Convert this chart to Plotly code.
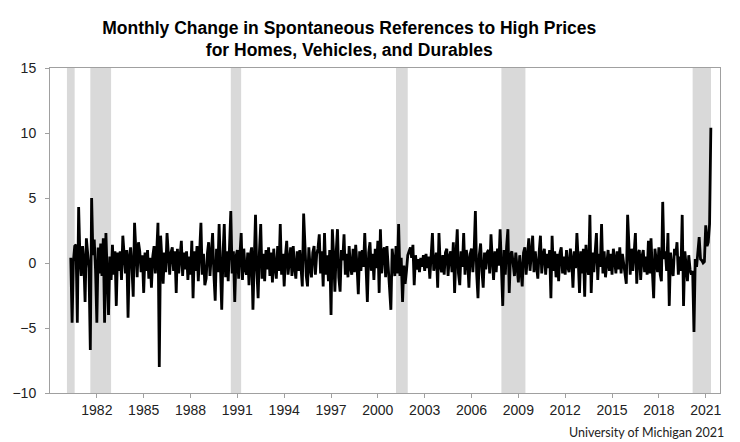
import pandas as pd
import plotly.graph_objects as go

# ---------------- data ----------------
start_month = "1980-05-01"

# monthly change, May 1980 .. May 2021
change = [
    0.4, -4.6, 0.1, 1.3, 1.4, -4.6, 4.3, 0.5,                          # 1980 (May-Dec)
    -1.0, 1.3, 0.2, -3.0, 1.9, 0.8, -0.4, -6.7, 5.0, 0.6, 1.8, -0.5,    # 1981
    -4.6, 1.2, -0.8, 1.5, -1.0, 1.9, -4.6, 2.3, -0.6, -4.0, 0.5, -1.3,  # 1982
    1.4, -0.9, 0.9, -3.3, 0.8, -0.6, 0.9, -1.3, 2.1, 0.6, -0.8, 1.0,    # 1983
    -4.2, 0.5, 1.2, -0.4, -2.6, 3.1, 0.4, -1.1, 1.6, 0.9, -0.7, 0.6,    # 1984
    -2.3, 0.8, -0.6, 1.0, -1.2, 0.4, -1.9, 0.5, 1.3, -0.8, 0.8, 3.1,    # 1985
    -8.0, 2.1, 0.4, -1.6, 0.8, -0.7, 2.3, 0.6, -0.9, 0.8, 1.2, -0.6,    # 1986
    0.9, -2.3, 1.1, -0.8, 0.4, 1.7, -1.0, 0.8, -0.5, 0.9, -1.3, 0.5,    # 1987
    -0.9, 1.7, -2.7, 0.9, -0.6, 1.3, -1.4, 0.4, 3.1, -0.9, 0.7, -1.7,   # 1988
    -1.2, 0.8, 1.6, -1.0, 0.6, 2.3, -0.9, -2.9, 1.1, -0.7, 3.0, -0.6,   # 1989
    -3.6, 0.8, 3.0, -1.1, 0.9, -1.4, 1.2, 4.0, -0.8, 0.9, -3.0, 0.5,    # 1990
    1.0, -1.2, 0.6, 2.3, -1.3, 1.1, -0.4, -0.9, 0.8, -1.7, 0.6, 1.2,    # 1991
    -3.6, 0.7, 3.7, -0.6, -2.7, 0.9, 3.0, -1.2, 0.7, -1.4, 1.0, -0.5,   # 1992
    1.2, -1.0, 0.8, -1.5, 1.1, -0.4, -1.2, 1.3, -0.6, 3.0, -0.9, 0.7,   # 1993
    -1.8, 0.6, 1.7, -0.9, 0.5, 1.2, -1.0, 1.3, -0.4, -1.2, 0.9, -0.6,   # 1994
    1.0, -0.8, -1.8, 3.8, 0.6, -1.0, -1.8, 1.2, -0.4, -1.1, 0.8, 1.3,   # 1995
    -0.9, 0.7, 1.1, 2.2, -0.8, 0.9, -1.8, 2.3, -0.9, 0.6, -1.4, 1.0,    # 1996
    -4.0, 2.6, 0.7, -2.2, 0.8, 2.6, -1.1, -2.2, 1.0, 0.2, 2.2, -0.9,    # 1997
    0.7, -1.1, 1.3, -0.3, -0.9, 1.1, -0.7, 1.4, -0.2, -2.4, 0.9, -0.6,  # 1998
    1.0, -0.3, 2.3, -0.9, -3.0, 0.8, 1.6, -0.6, 0.7, -1.3, 1.1, -0.4,   # 1999
    1.7, -2.3, 2.6, -0.8, 0.9, 1.2, -1.1, 1.3, -0.3, -1.4, -3.6, 1.1,   # 2000
    -0.3, -1.0, 1.3, -0.8, 3.0, -1.0, 0.4, -3.0, -0.2, -1.6, -0.6, 0.6, # 2001
    0.9, 1.2, 0.4, 1.4, -1.7, 0.6, -0.5, 0.3, -0.7, 0.4, -0.3, 0.6,     # 2002
    -0.6, 0.7, -0.4, 0.5, -1.2, 1.1, 2.3, -0.6, 0.3, 0.8, -1.9, 2.3,    # 2003
    -0.2, -0.7, 0.6, -0.9, 0.8, 1.1, -1.0, 0.5, 0.9, -0.7, 1.6, -2.3,   # 2004
    0.6, 2.6, -0.8, -1.7, 0.9, -0.3, 2.3, -0.9, 1.0, 0.3, -1.9, 0.7,    # 2005
    1.1, -0.7, 0.8, 4.0, -0.8, -2.7, 0.6, 1.5, -0.6, -1.9, 0.8, -0.5,   # 2006
    0.8, 1.0, -0.8, 2.2, 0.3, -1.3, 0.9, -0.7, 1.1, -0.2, 2.6, -0.8,    # 2007
    -3.3, 1.0, -0.9, 1.3, 2.6, -2.3, 0.6, 0.9, -0.4, -1.0, 0.8, -0.7,   # 2008
    -1.5, 0.6, -1.0, -1.8, 0.8, 1.2, -0.9, 0.6, 1.9, -0.6, 0.5, 2.1,    # 2009
    -0.7, 0.9, -0.2, -1.2, 0.8, 2.1, -0.8, 0.6, 1.1, -0.9, 0.7, -0.4,   # 2010
    1.0, -2.7, 2.1, -0.6, 0.9, -1.1, 0.7, -1.4, 0.8, 1.2, -0.8, 0.5,    # 2011
    -0.9, 1.0, -0.3, -0.7, 1.1, 0.3, -1.9, 0.9, -0.4, 2.3, 0.2, -2.3,   # 2012
    0.9, -0.8, 1.1, -2.6, 1.4, -0.3, -0.9, 3.7, -2.3, 0.8, -0.7, 1.2,   # 2013
    2.3, -1.3, 0.7, -0.3, 3.0, -0.8, 0.9, -1.1, 0.4, 1.0, -0.6, 0.7,    # 2014
    -0.9, 1.1, 0.3, -0.8, 0.9, -0.5, 1.2, -0.8, 0.7, -0.2, -0.9, -1.6,  # 2015
    3.7, 0.6, -0.9, 1.1, -0.6, 0.8, 2.3, -1.6, 0.7, 1.0, -1.3, 0.5,     # 2016
    1.0, -0.7, 0.5, -0.9, 1.7, -0.8, 1.9, -0.6, -2.7, 1.1, 0.3, -0.7,   # 2017
    1.2, -0.9, -1.4, 4.7, 0.3, 0.9, -0.6, 2.3, -3.3, 0.8, -0.4, -1.0,   # 2018
    1.1, 0.6, 1.6, -0.9, 0.5, -0.6, 3.7, -3.3, 0.9, -0.5, -1.4, 0.6,    # 2019
    -0.5, -0.9, -0.6, -5.3, 0.3, -0.3, 0.8, 2.0, 0.3, 0.2, 0.0, 0.1,    # 2020
    2.9, 1.3, 1.6, 3.0, 10.4,                                           # 2021 (Jan-May)
]

recession_starts = ["1980-02-01", "1981-08-01", "1990-08-01", "2001-03-01", "2007-12-01", "2020-03-01"]
recession_ends = ["1980-07-31", "1982-11-30", "1991-03-31", "2001-11-30", "2009-06-15", "2021-05-05"]

tick_years = [1982, 1985, 1988, 1991, 1994, 1997, 2000, 2003, 2006, 2009, 2012, 2015, 2018, 2021]
y_ticks = [-10, -5, 0, 5, 10, 15]

title_text = ("Monthly Change in Spontaneous References to High Prices<br>"
              "for Homes, Vehicles, and Durables")
source_text = "University of Michigan 2021"

# ---------------- figure ----------------
dates = pd.date_range(start_month, periods=len(change), freq="MS")

fig = go.Figure()
fig.add_trace(go.Scatter(
    x=dates, y=change, mode="lines",
    line=dict(color="black", width=2.8),
    hoverinfo="x+y", showlegend=False,
))

for s, e in zip(recession_starts, recession_ends):
    fig.add_shape(type="rect", xref="x", yref="y", x0=s, x1=e, y0=-10, y1=15,
                  fillcolor="#d9d9d9", line=dict(width=0), layer="below")

fig.update_layout(
    width=740, height=442,
    margin=dict(l=45, r=20, t=68, b=49),
    paper_bgcolor="white", plot_bgcolor="white",
    font=dict(family="Liberation Sans, Arial, sans-serif", color="black", size=14),
    title=dict(text="<b>" + title_text + "</b>", x=0.472, xanchor="center",
               y=0.924, yanchor="top", yref="container",
               font=dict(family="Liberation Sans, Arial, sans-serif", size=17.5, color="black")),
    showlegend=False,
)

fig.update_xaxes(
    type="date",
    range=["1979-01-01", "2021-12-01"],
    tickvals=[f"{y}-01-01" for y in tick_years],
    ticktext=[str(y) for y in tick_years],
    ticks="outside", ticklen=4, tickcolor="#a0a0a0", tickwidth=1,
    showline=True, linecolor="#a0a0a0", linewidth=1, mirror=True,
    showgrid=False, zeroline=False,
    tickfont=dict(size=14, color="#222222"),
)
fig.update_yaxes(
    range=[-10, 15],
    tickvals=y_ticks,
    ticks="outside", ticklen=4, tickcolor="#a0a0a0", tickwidth=1,
    showline=True, linecolor="#a0a0a0", linewidth=1, mirror=True,
    showgrid=False, zeroline=False,
    tickfont=dict(size=14, color="#222222"),
    ticklabelstandoff=6,
)

fig.add_annotation(text=source_text, xref="paper", yref="paper",
                   x=1.0, y=-0.092, xanchor="right", yanchor="top",
                   xshift=6, showarrow=False,
                   font=dict(family="Lato, Liberation Sans, sans-serif", size=12.5, color="#222222"))

fig.write_html("out.html")
